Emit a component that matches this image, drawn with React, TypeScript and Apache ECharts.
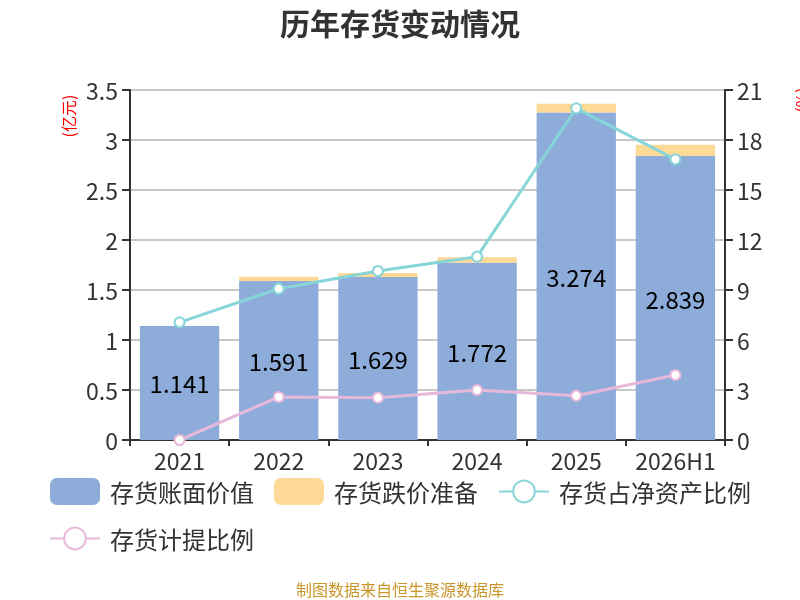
import React, { useEffect, useRef } from "react";
import * as echarts from "echarts";

const categories = ["2021", "2022", "2023", "2024", "2025", "2026H1"];
const bookValue = [1.141, 1.591, 1.629, 1.772, 3.274, 2.839];
const reserve = [0.0, 0.042, 0.042, 0.055, 0.089, 0.114];
const ratioNetAssets = [7.06, 9.08, 10.14, 11.0, 19.9, 16.84];
const provisionRatio = [0.0, 2.58, 2.54, 3.0, 2.66, 3.9];
const leftTicks = { min: 0, max: 3.5, interval: 0.5 };
const rightTicks = { min: 0, max: 21, interval: 3 };

const FONT = "'Noto Sans CJK SC', 'Noto Sans', sans-serif";

export default function App() {
  const ref = useRef<HTMLDivElement>(null);
  useEffect(() => {
    if (!ref.current) return;
    const chart = echarts.init(ref.current, undefined, { renderer: "svg" });
    chart.setOption({
      animation: false,
      textStyle: { fontFamily: FONT },
      title: {
        text: "历年存货变动情况",
        left: "center",
        top: 2,
        textStyle: { fontSize: 30, fontWeight: "bold", color: "#333", fontFamily: FONT },
      },
      grid: { left: 130, right: 75, top: 90, bottom: 160 },
      legend: {
        left: 44,
        top: 473,
        width: 740,
        itemWidth: 50,
        itemHeight: 27,
        itemGap: 20,
        textStyle: { fontSize: 24, color: "#333", fontFamily: FONT, padding: [0, 0, 0, 5] },
        data: [
          { name: "存货账面价值", icon: "roundRect" },
          { name: "存货跌价准备", icon: "roundRect" },
          { name: "存货占净资产比例" },
          { name: "存货计提比例" },
        ],
      },
      graphic: [
        {
          type: "text",
          x: 68,
          y: 116,
          rotation: Math.PI / 2,
          style: { text: "(亿元)", fill: "#ff0000", fontSize: 16, fontFamily: FONT, align: "center", verticalAlign: "middle" },
        },
        {
          type: "text",
          x: 801,
          y: 100,
          rotation: Math.PI / 2,
          style: { text: "(%)", fill: "#ff0000", fontSize: 16, fontFamily: FONT, align: "center", verticalAlign: "middle" },
        },
        {
          type: "text",
          x: 400,
          y: 589,
          style: { text: "制图数据来自恒生聚源数据库", fill: "#c9962a", fontSize: 16, fontFamily: FONT, align: "center", verticalAlign: "middle" },
        },
      ],
      xAxis: {
        type: "category",
        data: categories,
        axisLine: { lineStyle: { color: "#333", width: 2 } },
        axisTick: { show: true, length: 6, lineStyle: { color: "#333", width: 2 } },
        axisLabel: { fontSize: 23, color: "#333", margin: 9, interval: 0, lineHeight: 22 },
      },
      yAxis: [
        {
          type: "value",
          min: leftTicks.min,
          max: leftTicks.max,
          interval: leftTicks.interval,
          axisLine: { show: true, lineStyle: { color: "#333", width: 2 } },
          axisTick: { show: true, length: 8, lineStyle: { color: "#333", width: 2 } },
          axisLabel: { fontSize: 23, color: "#333", margin: 12 },
          splitLine: { lineStyle: { color: "#c8c8c8", width: 2 } },
        },
        {
          type: "value",
          min: rightTicks.min,
          max: rightTicks.max,
          interval: rightTicks.interval,
          axisLine: { show: true, lineStyle: { color: "#333", width: 2 } },
          axisTick: { show: true, length: 8, lineStyle: { color: "#333", width: 2 } },
          axisLabel: { fontSize: 23, color: "#333", margin: 12 },
          splitLine: { show: false },
        },
      ],
      series: [
        {
          name: "存货账面价值",
          type: "bar",
          stack: "inv",
          barWidth: "80%",
          data: bookValue,
          itemStyle: { color: "#8eacd9" },
          label: { show: true, position: "inside", fontSize: 24, color: "#000", fontFamily: FONT },
        },
        {
          name: "存货跌价准备",
          type: "bar",
          stack: "inv",
          barWidth: "80%",
          data: reserve,
          itemStyle: { color: "#ffd996" },
        },
        {
          name: "存货占净资产比例",
          type: "line",
          yAxisIndex: 1,
          data: ratioNetAssets,
          symbol: "circle",
          symbolSize: 10,
          lineStyle: { color: "#86d5d8", width: 3 },
          itemStyle: { color: "#fff", borderColor: "#86d5d8", borderWidth: 2 },
        },
        {
          name: "存货计提比例",
          type: "line",
          yAxisIndex: 1,
          data: provisionRatio,
          symbol: "circle",
          symbolSize: 10,
          lineStyle: { color: "#e6b8da", width: 3 },
          itemStyle: { color: "#fff", borderColor: "#e6b8da", borderWidth: 2 },
        },
      ],
    });
    return () => chart.dispose();
  }, []);
  return (
    <div
      ref={ref}
      style={{ position: "fixed", left: 0, top: 0, width: 800, height: 600 }}
    />
  );
}
